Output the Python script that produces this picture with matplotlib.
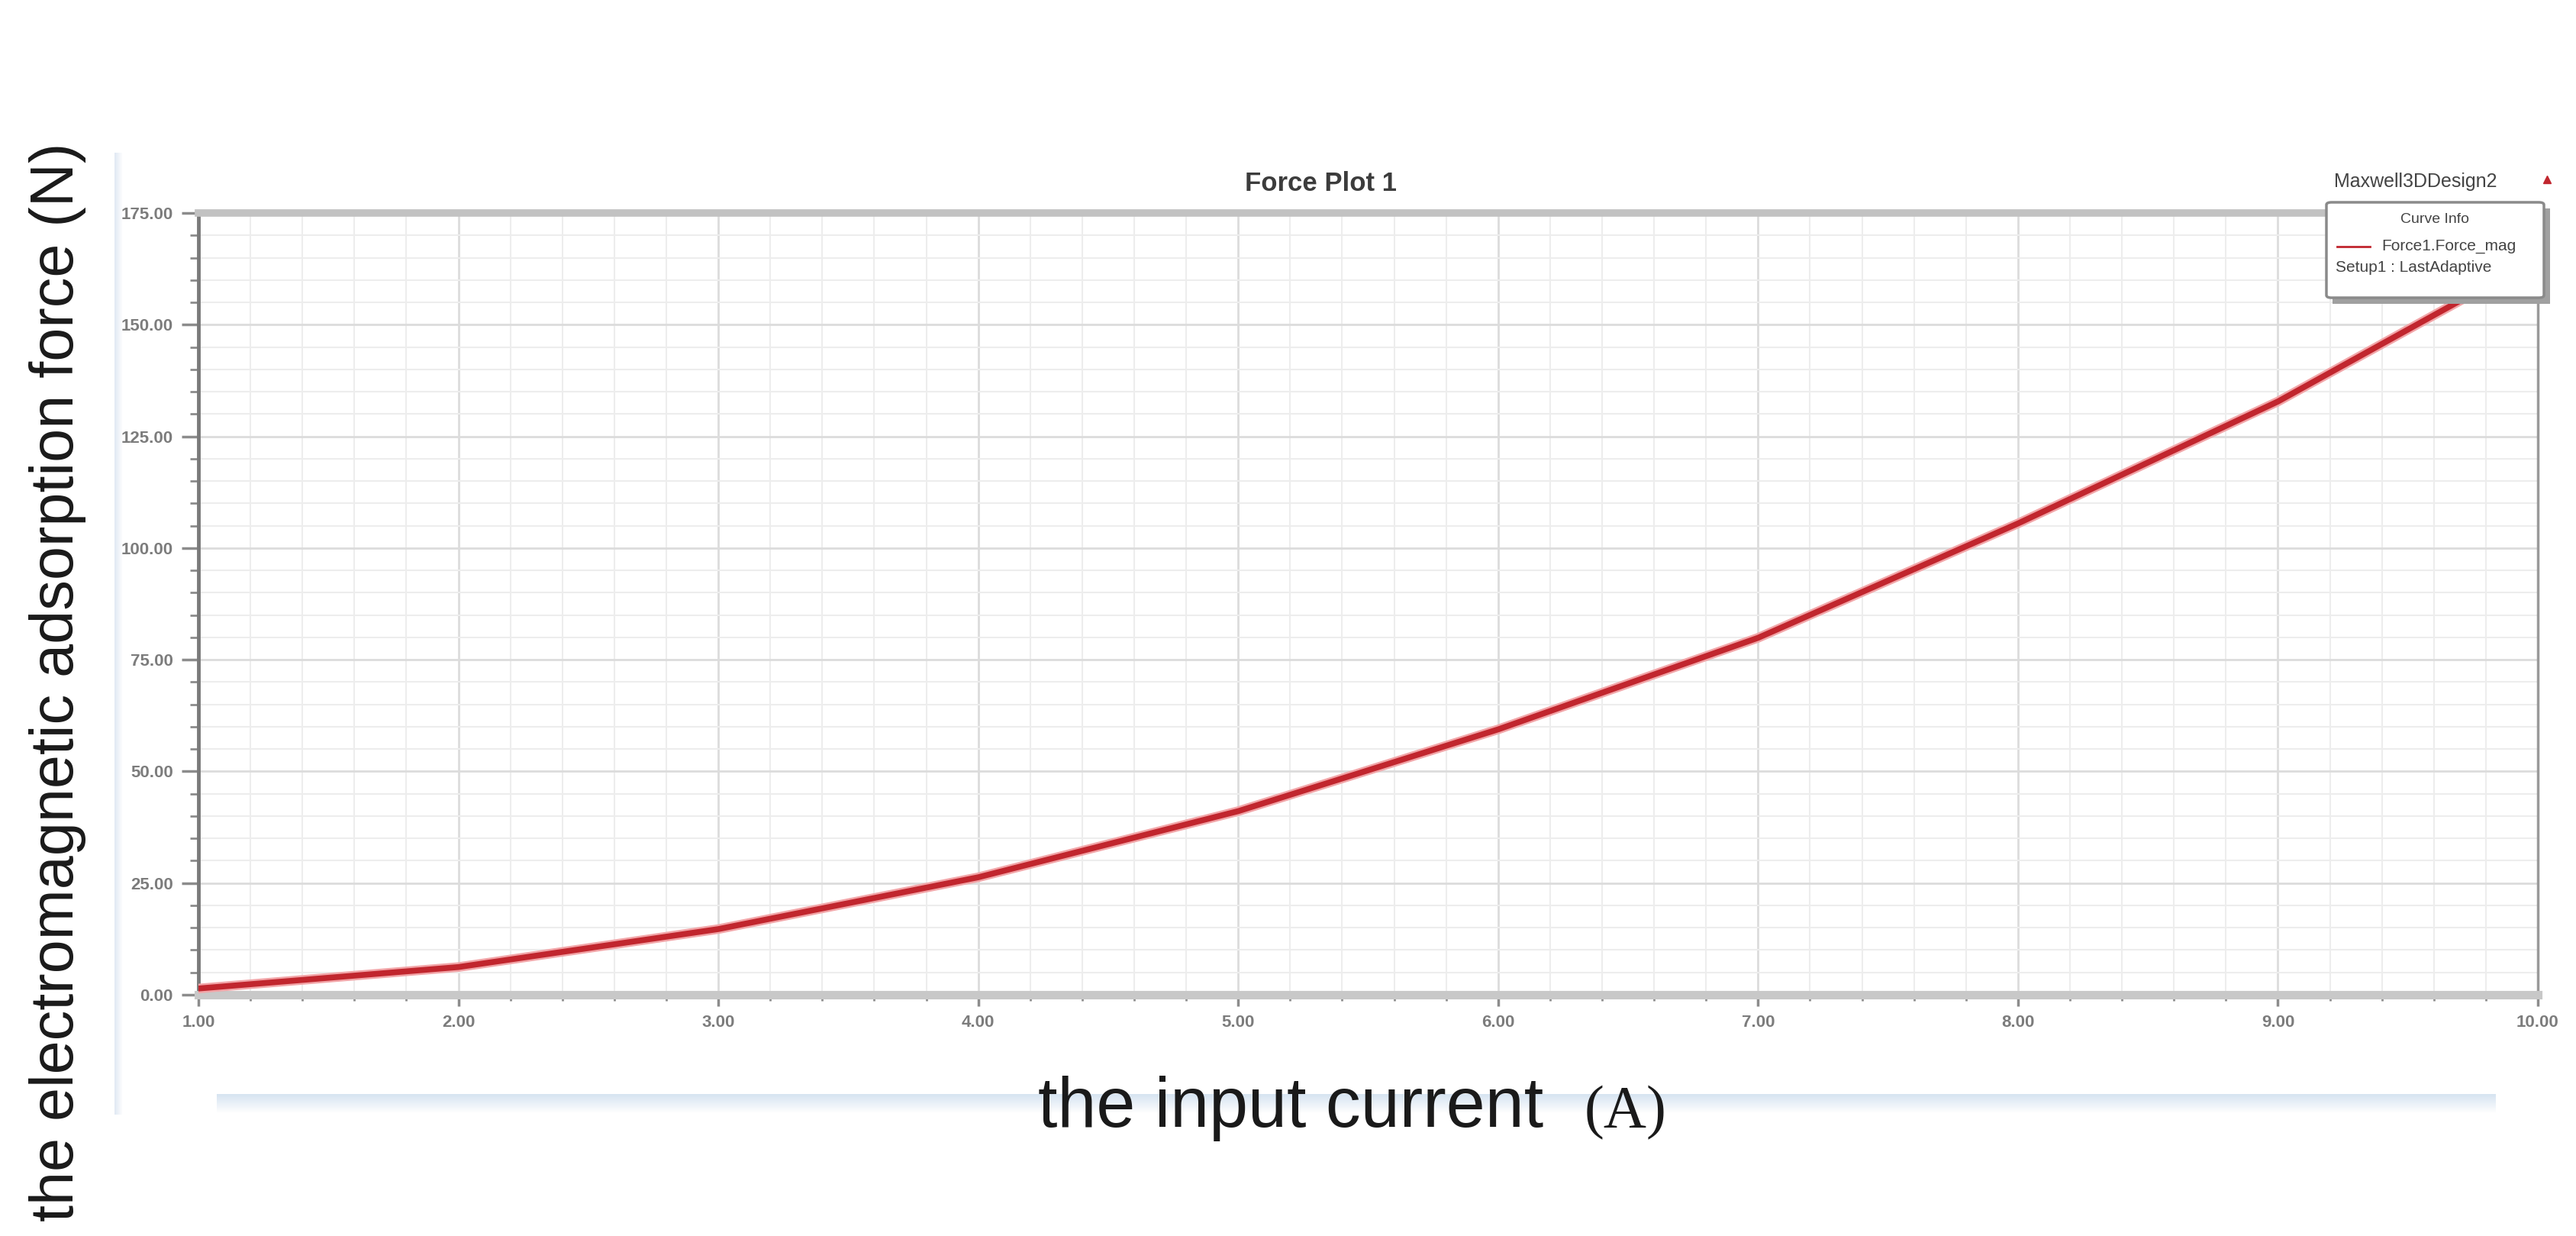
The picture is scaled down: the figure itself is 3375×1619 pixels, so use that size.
import matplotlib
matplotlib.use("Agg")
from matplotlib import pyplot as plt
from matplotlib import font_manager
from matplotlib.ticker import MultipleLocator, FormatStrFormatter
from matplotlib.patches import Rectangle, FancyBboxPatch
from matplotlib.lines import Line2D

# input current (A) and force (N)
current = [1, 2, 3, 4, 5, 6, 7, 8, 9, 10]
force = [1.4, 6.2, 14.7, 26.3, 41.1, 59.4, 79.9, 105.5, 132.8, 165.0]

W, H = 3375, 1619
plt.rcParams['font.family'] = ['Liberation Sans', 'DejaVu Sans']

# the y label uses a condensed face when there is one
names = {f.name for f in font_manager.fontManager.ttflist}
if 'Liberation Sans Narrow' in names:
    ylab_family, ylab_size = 'Liberation Sans Narrow', 70
else:
    ylab_family, ylab_size = 'Liberation Sans', 57


def fx(px):
    return px / W


def fy(py):
    return 1 - py / H


fig = plt.figure(figsize=(W / 100, H / 100), dpi=100)
ax = fig.add_axes([fx(260), fy(1303), fx(3325) - fx(260), fy(279) - fy(1303)])

ax.plot(current, force, color='#f2a5a8', lw=9, solid_capstyle='round', zorder=3)
ax.plot(current, force, color='#c1262e', lw=5.5, solid_capstyle='round', zorder=4)

ax.set_xlim(1, 10)
ax.set_ylim(0, 175)
ax.xaxis.set_major_locator(MultipleLocator(1))
ax.xaxis.set_minor_locator(MultipleLocator(0.2))
ax.yaxis.set_major_locator(MultipleLocator(25))
ax.yaxis.set_minor_locator(MultipleLocator(5))
ax.xaxis.set_major_formatter(FormatStrFormatter('%.2f'))
ax.yaxis.set_major_formatter(FormatStrFormatter('%.2f'))

ax.grid(which='major', color='#dcdcdc', lw=2.0)
ax.grid(which='minor', color='#ededed', lw=1.5)
ax.set_axisbelow(True)

ax.spines['bottom'].set_color('#c8c8c8')
ax.spines['bottom'].set_linewidth(8)
ax.spines['top'].set_color('#c2c2c2')
ax.spines['top'].set_linewidth(7)
ax.spines['left'].set_color('#7a7a7a')
ax.spines['left'].set_linewidth(3.5)
ax.spines['right'].set_color('#9a9a9a')
ax.spines['right'].set_linewidth(2.5)

ax.tick_params(axis='y', which='major', length=16, width=2.5, color='#8c8c8c',
               pad=8, labelsize=16, labelcolor='#7c7c7c')
ax.tick_params(axis='y', which='minor', length=8, width=2, color='#8c8c8c')
ax.tick_params(axis='x', which='major', length=11, width=2.5, color='#8c8c8c',
               pad=8, labelsize=16, labelcolor='#7c7c7c')
ax.tick_params(axis='x', which='minor', length=6, width=2, color='#8c8c8c')
for lab in ax.get_xticklabels() + ax.get_yticklabels():
    lab.set_fontweight('bold')

# Maxwell header
fig.text(fx(1731), fy(240), 'Force Plot 1', ha='center', va='center',
         fontsize=25, fontweight='bold', color='#3c3c3c')
fig.text(fx(3058), fy(238), 'Maxwell3DDesign2', ha='left', va='center',
         fontsize=18, color='#444444')
fig.add_artist(Line2D([fx(3337)], [fy(235)], marker='^', markersize=7,
                      color='#c1262e', transform=fig.transFigure))

# curve info box
fig.add_artist(Rectangle((fx(3056), fy(398)), fx(3341) - fx(3056), fy(273) - fy(398),
                         facecolor='#a0a0a0', edgecolor='none',
                         transform=fig.transFigure, zorder=5))
fig.add_artist(FancyBboxPatch((fx(3048), fy(390)), fx(3333) - fx(3048), fy(265) - fy(390),
                              boxstyle='round,pad=0,rounding_size=0.002',
                              facecolor='white', edgecolor='#8a8a8a', lw=2.5,
                              transform=fig.transFigure, zorder=6))
fig.text(fx(3190), fy(288), 'Curve Info', ha='center', va='center',
         fontsize=14, color='#444444', zorder=7)
fig.add_artist(Line2D([fx(3062), fx(3105)], [fy(323), fy(323)], color='#c1262e',
                      lw=2, transform=fig.transFigure, zorder=7))
fig.text(fx(3120), fy(323), 'Force1.Force_mag', ha='left', va='center',
         fontsize=15, color='#444444', zorder=7)
fig.text(fx(3060), fy(350), 'Setup1 : LastAdaptive', ha='left', va='center',
         fontsize=15, color='#444444', zorder=7)

# white label boxes with faint blue shadow
fig.add_artist(Rectangle((fx(284), fy(1433)), fx(3270) - fx(284), fy(1368) - fy(1433),
                         facecolor='white', edgecolor='none',
                         transform=fig.transFigure, zorder=5))
for i in range(12):
    fig.add_artist(Rectangle((fx(284), fy(1433 + 2 * i + 2)), fx(3270) - fx(284), 2 / H,
                             facecolor='#d3e1f0', alpha=0.9 * (1 - i / 12),
                             edgecolor='none', transform=fig.transFigure, zorder=5))
for i in range(5):
    fig.add_artist(Rectangle((fx(150 + 2 * i), fy(1460)), 2 / W, fy(200) - fy(1460),
                             facecolor='#dfe8f3', alpha=0.9 * (1 - i / 5),
                             edgecolor='none', transform=fig.transFigure, zorder=5))

# outer labels
fig.text(fx(76), fy(893), 'the electromagnetic adsorption force (N)', rotation=90,
         ha='center', va='center', fontsize=ylab_size, family=ylab_family,
         color='#1a1a1a', zorder=8)
fig.text(fx(1360), fy(1476), 'the input current', ha='left', va='baseline',
         fontsize=66, color='#1a1a1a', zorder=8)
fig.text(fx(2076), fy(1476), '(A)', ha='left', va='baseline',
         fontsize=56, family='Liberation Serif', color='#1a1a1a', zorder=8)

plt.savefig('out.png', dpi=100)
